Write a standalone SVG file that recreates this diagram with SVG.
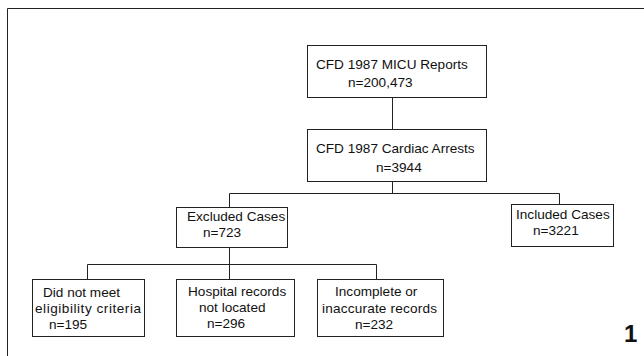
<svg xmlns="http://www.w3.org/2000/svg" width="644" height="356" viewBox="0 0 644 356">
<style>
.box{fill:#fff;stroke:#222;stroke-width:1}
.t{font-family:"Liberation Sans",Arial,sans-serif;font-size:13.6px;fill:#111}
.c{fill:none;stroke:#222;stroke-width:1}
</style>
<rect width="644" height="356" fill="#fff"/>
<path class="c" d="M7.5,356 V8.5 H644"/>
<g id="connectors">
<path class="c" d="M392.5,97 V129"/>
<path class="c" d="M392.5,182 V193.5"/>
<path class="c" d="M229.5,207 V193.5 H559.5 V204"/>
<path class="c" d="M229.5,248 V264.5"/>
<path class="c" d="M87.5,279 V264.5 H376.5 V279"/>
<path class="c" d="M229.5,264.5 V279"/>
</g>
<g id="micu">
<rect class="box" x="307.5" y="45.5" width="179" height="52"/>
<text class="t" x="316" y="69">CFD 1987 MICU Reports</text>
<text class="t" x="348" y="87">n=200,473</text>
</g>
<g id="arrests">
<rect class="box" x="307.5" y="129.5" width="179" height="52"/>
<text class="t" x="316" y="153">CFD 1987 Cardiac Arrests</text>
<text class="t" x="376" y="172">n=3944</text>
</g>
<g id="excluded">
<rect class="box" x="176.5" y="207.5" width="111" height="40"/>
<text class="t" x="187" y="221">Excluded Cases</text>
<text class="t" x="203" y="237">n=723</text>
</g>
<g id="included">
<rect class="box" x="511.5" y="204.5" width="102" height="42"/>
<text class="t" x="516" y="219">Included Cases</text>
<text class="t" x="533" y="235">n=3221</text>
</g>
<g id="ineligible">
<rect class="box" x="32.5" y="279.5" width="112" height="57"/>
<text class="t" x="43" y="297">Did not meet</text>
<text class="t" x="35" y="313" textLength="106" lengthAdjust="spacing">eligibility criteria</text>
<text class="t" x="49" y="329">n=195</text>
</g>
<g id="notlocated">
<rect class="box" x="176.5" y="279.5" width="118" height="57"/>
<text class="t" x="188" y="296">Hospital records</text>
<text class="t" x="199" y="312">not located</text>
<text class="t" x="207" y="328">n=296</text>
</g>
<g id="incomplete">
<rect class="box" x="317.5" y="279.5" width="126" height="57"/>
<text class="t" x="335" y="296">Incomplete or</text>
<text class="t" x="322" y="313" textLength="115" lengthAdjust="spacing">inaccurate records</text>
<text class="t" x="355" y="329">n=232</text>
</g>
<text x="624" y="342" font-family="Liberation Sans,Arial,sans-serif" font-size="24" font-weight="bold" fill="#111">1</text>
</svg>
